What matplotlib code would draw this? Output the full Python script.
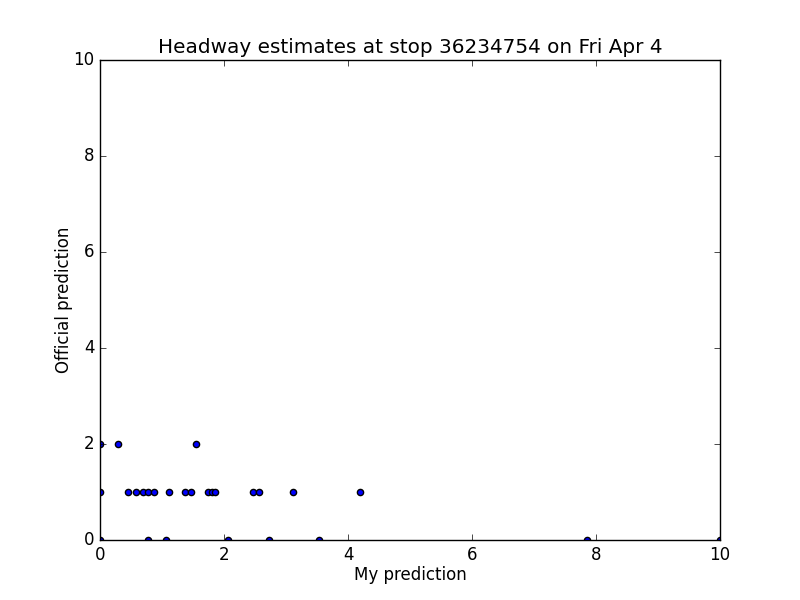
import matplotlib
matplotlib.use("Agg")
import matplotlib.pyplot as plt

plt.style.use('classic')

my_pred = [0.0, 0.29, 1.55,
           0.0, 0.45, 0.58, 0.69, 0.78, 0.87, 1.11, 1.37, 1.46, 1.74, 1.80, 1.86,
           2.46, 2.57, 3.12, 4.19,
           0.0, 0.78, 1.07, 2.06, 2.73, 3.53, 7.85, 10.0]
official = [2, 2, 2,
            1, 1, 1, 1, 1, 1, 1, 1, 1, 1, 1, 1,
            1, 1, 1, 1,
            0, 0, 0, 0, 0, 0, 0, 0]

fig = plt.figure(figsize=(8, 6), dpi=100)
ax = fig.add_subplot(111)
ax.scatter(my_pred, official, c='b', s=20)
ax.set_xlim(0, 10)
ax.set_ylim(0, 10)
ax.set_xlabel('My prediction', labelpad=1.5)
ax.set_ylabel('Official prediction', labelpad=0.5)
ax.set_title('Headway estimates at stop 36234754 on Fri Apr 4')
fig.savefig('out.png', dpi=100, facecolor='white')
